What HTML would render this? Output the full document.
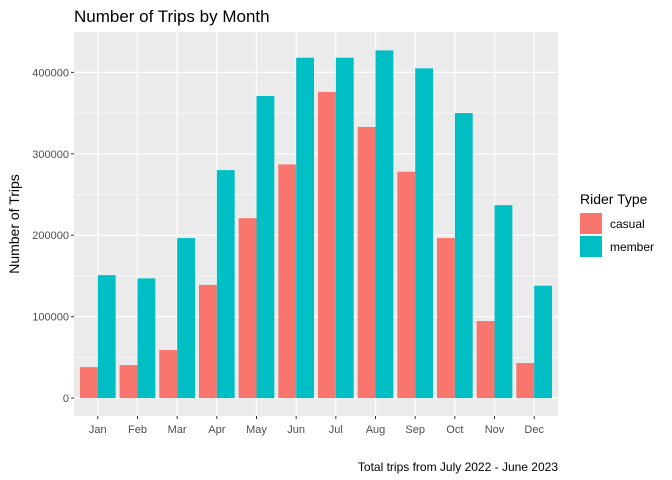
<!DOCTYPE html>
<html><head><meta charset="utf-8"><style>
body{margin:0;background:#fff;}
svg{display:block;font-family:"Liberation Sans",Arial,sans-serif;}
</style></head><body>
<svg id="chart" width="672" height="480"></svg>
<script>
const months=["Jan","Feb","Mar","Apr","May","Jun","Jul","Aug","Sep","Oct","Nov","Dec"];
const casual=[38000,40500,59000,139000,221000,287000,376000,333000,278000,196500,94600,43000];
const member=[151000,147000,196500,280000,371000,418000,418000,427000,405000,350000,237000,138000];
const yTicks=[0,100000,200000,300000,400000];
const yMinor=[50000,150000,250000,350000];
const seriesNames=["casual","member"];
const colors=["#F8766D","#00BFC4"];

const NS="http://www.w3.org/2000/svg";
const svg=document.getElementById('chart');
const pL=74,pR=558,pT=32,pB=416;
const yMin=-22000,yMax=449600;
const y=v=>pB-(v-yMin)/(yMax-yMin)*(pB-pT);
const band=(pR-pL)/12.2;
const x=i=>pL+(i+1-0.4)*band;
function el(tag,attrs,parent){const e=document.createElementNS(NS,tag);for(const k in attrs)e.setAttribute(k,attrs[k]);(parent||svg).appendChild(e);return e;}

const panel=el('rect',{x:pL,y:pT,width:pR-pL,height:pB-pT,fill:'#EBEBEB'});


yMinor.forEach(v=>{const l=el('line',{x1:pL,x2:pR,y1:y(v),y2:y(v),stroke:'#fff','stroke-width':0.6});

});
yTicks.forEach(v=>{const l=el('line',{x1:pL,x2:pR,y1:y(v),y2:y(v),stroke:'#fff','stroke-width':1.2});


const tk=el('line',{x1:pL-3,x2:pL,y1:y(v),y2:y(v),stroke:'#333','stroke-width':1});


const t=el('text',{x:pL-5,y:y(v)+4,'text-anchor':'end','font-size':11,fill:'#4D4D4D'});t.textContent=v;

});
months.forEach((m,i)=>{const l=el('line',{x1:x(i),x2:x(i),y1:pT,y2:pB,stroke:'#fff','stroke-width':1.2});


const tk=el('line',{x1:x(i),x2:x(i),y1:pB,y2:pB+3,stroke:'#333','stroke-width':1});


const t=el('text',{x:x(i),y:pB+17,'text-anchor':'middle','font-size':11,fill:'#4D4D4D'});t.textContent=m;

});
const bw=band*0.45;
[casual,member].forEach((s,si)=>{s.forEach((v,i)=>{
const bx=x(i)-bw+si*bw;
const r=el('rect',{x:bx,y:y(v),width:bw,height:y(0)-y(v),fill:colors[si]});

});});

const title=el('text',{x:pL,y:22,'font-size':17,fill:'#000'});title.textContent='Number of Trips by Month';


const yl=el('text',{x:0,y:0,'font-size':14,fill:'#000','text-anchor':'middle',transform:`translate(19,${(pT+pB)/2}) rotate(-90)`});yl.textContent='Number of Trips';


const cap=el('text',{x:pR,y:471,'font-size':12,fill:'#000','text-anchor':'end'});cap.textContent='Total trips from July 2022 - June 2023';



const lt=el('text',{x:580,y:204,'font-size':14,fill:'#000'});lt.textContent='Rider Type';


seriesNames.forEach((n,i)=>{const ky=213+i*23;
const k=el('rect',{x:580,y:ky,width:22,height:21,fill:colors[i]});


const t=el('text',{x:610,y:ky+15,'font-size':12,fill:'#000'});t.textContent=n;

});
</script>
</body></html>
